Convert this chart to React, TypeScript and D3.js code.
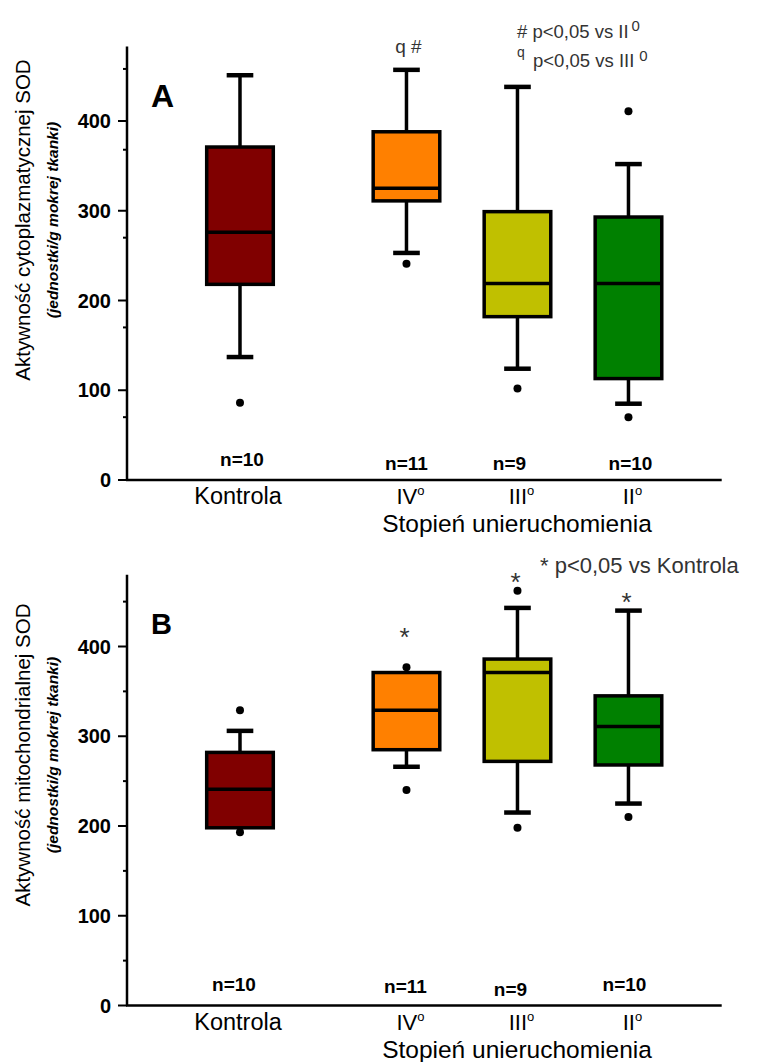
import React from "react";
import { scaleLinear } from "d3";

// groups along the x axis (Kontrola set apart from the three immobilisation grades)
const groups = ["Kontrola", "IV", "III", "II"];
const groupPos = [1, 2.5, 3.5, 4.5];
const groupColors = ["#800000", "#ff8000", "#c0c000", "#008000"];

// A: cytoplasmic SOD
const cytoN = [10, 11, 9, 10];
const cytoLow = [137, 253, 124, 85];
const cytoQ1 = [218, 311, 182, 113];
const cytoMed = [276, 325, 219, 219];
const cytoQ3 = [371, 388, 299, 293];
const cytoHigh = [451, 457, 438, 352];
const cytoOutliers = [[86], [241], [102], [411, 70]];
const cytoMinorTicks = [70, 170, 270, 368, 458];

// B: mitochondrial SOD
const mitoN = [10, 11, 9, 10];
const mitoLow = [198, 266, 215, 225];
const mitoQ1 = [198, 285, 272, 268];
const mitoMed = [241, 329, 371, 311];
const mitoQ3 = [282, 371, 386, 345];
const mitoHigh = [306, 371, 443, 440];
const mitoOutliers = [[329, 193], [377, 240], [462, 198], [210]];
const mitoMinorTicks = [50, 150, 250, 350, 450];
const mitoStarLevel = [null, 401, 462, 439];

const font = "'Liberation Sans', Arial, Helvetica, sans-serif";
const annot = "#333";

const x = scaleLinear().domain([0, 5.34]).range([129, 721.7]);

const Panel = ({ base, axisTop, n, nDy, nDx, low, q1, med, q3, high, outliers, minorTicks, title, letter, letterSize, letterY, titleCenter, children }) => {
  const y = scaleLinear().domain([0, 400]).range([base, base - 359]);
  const halfBox = x(0.3) - x(0);
  const halfCap = x(0.12) - x(0);
  const x0 = x(0) - 2;

  return (
    <g fontFamily={font}>
      {/* axes */}
      <line x1={x0} x2={x0} y1={y(axisTop)} y2={base} stroke="#000" strokeWidth={2.5} />
      <line x1={x0 - 1} x2={x(5.34)} y1={base} y2={base} stroke="#000" strokeWidth={2.5} />
      {y.ticks(5).map((t) => (
        <g key={`t${t}`}>
          <line x1={x0 - 9} x2={x0} y1={y(t)} y2={y(t)} stroke="#000" strokeWidth={2} />
          <text x={111} y={y(t)} dy="0.35em" textAnchor="end" fontSize={20} fontWeight="bold">
            {t}
          </text>
        </g>
      ))}
      {minorTicks.map((t) => (
        <line key={`m${t}`} x1={x0 - 4} x2={x0} y1={y(t)} y2={y(t)} stroke="#000" strokeWidth={2} />
      ))}

      {/* y titles */}
      <text transform={`translate(30,${titleCenter}) rotate(-90)`} textAnchor="middle" fontSize={20.5}>
        {title}
      </text>
      <text transform={`translate(58,${titleCenter}) rotate(-90)`} textAnchor="middle" fontSize={15.5} fontWeight="bold" fontStyle="italic">
        (jednostki/g mokrej tkanki)
      </text>

      <text x={151} y={letterY} fontSize={letterSize} fontWeight="bold">
        {letter}
      </text>

      {/* boxes */}
      {groups.map((g, i) => {
        const cx = x(groupPos[i]);
        return (
          <g key={g}>
            <line x1={cx} x2={cx} y1={y(high[i])} y2={y(q3[i])} stroke="#000" strokeWidth={3.5} />
            <line x1={cx} x2={cx} y1={y(q1[i])} y2={y(low[i])} stroke="#000" strokeWidth={3.5} />
            {high[i] > q3[i] && (
              <line x1={cx - halfCap} x2={cx + halfCap} y1={y(high[i])} y2={y(high[i])} stroke="#000" strokeWidth={4.5} />
            )}
            {low[i] < q1[i] && (
              <line x1={cx - halfCap} x2={cx + halfCap} y1={y(low[i])} y2={y(low[i])} stroke="#000" strokeWidth={4.5} />
            )}
            <rect
              x={cx - halfBox}
              y={y(q3[i])}
              width={halfBox * 2}
              height={y(q1[i]) - y(q3[i])}
              fill={groupColors[i]}
              stroke="#000"
              strokeWidth={3.5}
            />
            <line x1={cx - halfBox} x2={cx + halfBox} y1={y(med[i])} y2={y(med[i])} stroke="#000" strokeWidth={3.5} />
            {outliers[i].map((o, j) => (
              <circle key={j} cx={cx} cy={y(o)} r={4} fill="#000" />
            ))}
            <text x={cx + nDx[i]} y={base + nDy[i]} textAnchor="middle" fontSize={19} fontWeight="bold">
              n={n[i]}
            </text>
            <text x={cx + (i === 0 ? -2 : 4)} y={base + 24} textAnchor="middle" fontSize={i === 0 ? 23.5 : 22}>
              {g}
              {i > 0 && (
                <tspan fontSize={13} dy={-9}>
                  o
                </tspan>
              )}
            </text>
          </g>
        );
      })}

      <text x={517} y={base + 52} textAnchor="middle" fontSize={24.5}>
        Stopień unieruchomienia
      </text>

      {children(y)}
    </g>
  );
};

export default function App() {
  return (
    <div style={{ position: "absolute", left: 0, top: 0 }}>
      <svg width={757} height={1062} style={{ display: "block", background: "#fff" }}>
        <Panel
          base={480}
          axisTop={483}
          n={cytoN}
          nDy={[-14, -10, -10, -10]}
          nDx={[2, 0, -8, 2]}
          low={cytoLow}
          q1={cytoQ1}
          med={cytoMed}
          q3={cytoQ3}
          high={cytoHigh}
          outliers={cytoOutliers}
          minorTicks={cytoMinorTicks}
          title="Aktywność cytoplazmatycznej SOD"
          letter="A"
          letterSize={32}
          letterY={107}
          titleCenter={220}
        >
          {(y) => (
            <g fill={annot}>
              <text x={x(2.5) + 2} y={y(476)} textAnchor="middle" fontSize={19}>
                q #
              </text>
              <text x={517} y={38} fontSize={18.5}>
                # p&lt;0,05 vs II
                <tspan fontSize={15} dx={3} dy={-7}>
                  0
                </tspan>
              </text>
              <text x={517} y={67} fontSize={18.5}>
                <tspan fontSize={14} dy={-10}>
                  q
                </tspan>
                <tspan x={533} dy={10}>
                  p&lt;0,05 vs III
                </tspan>
                <tspan fontSize={15} dx={5} dy={-6}>
                  0
                </tspan>
              </text>
            </g>
          )}
        </Panel>
        <Panel
          base={1005.5}
          axisTop={480}
          n={mitoN}
          nDy={[-15, -13, -10, -15]}
          nDx={[-6, -1, -7, -4]}
          low={mitoLow}
          q1={mitoQ1}
          med={mitoMed}
          q3={mitoQ3}
          high={mitoHigh}
          outliers={mitoOutliers}
          minorTicks={mitoMinorTicks}
          title="Aktywność mitochondrialnej SOD"
          letter="B"
          letterSize={29}
          letterY={634}
          titleCenter={755}
        >
          {(y) => (
            <g fill={annot}>
              <text x={540} y={573} fontSize={22}>
                * p&lt;0,05 vs Kontrola
              </text>
              {mitoStarLevel.map((v, i) =>
                v == null ? null : (
                  <text key={i} x={x(groupPos[i]) - 2} y={y(v)} textAnchor="middle" fontSize={26}>
                    *
                  </text>
                )
              )}
            </g>
          )}
        </Panel>
      </svg>
    </div>
  );
}
